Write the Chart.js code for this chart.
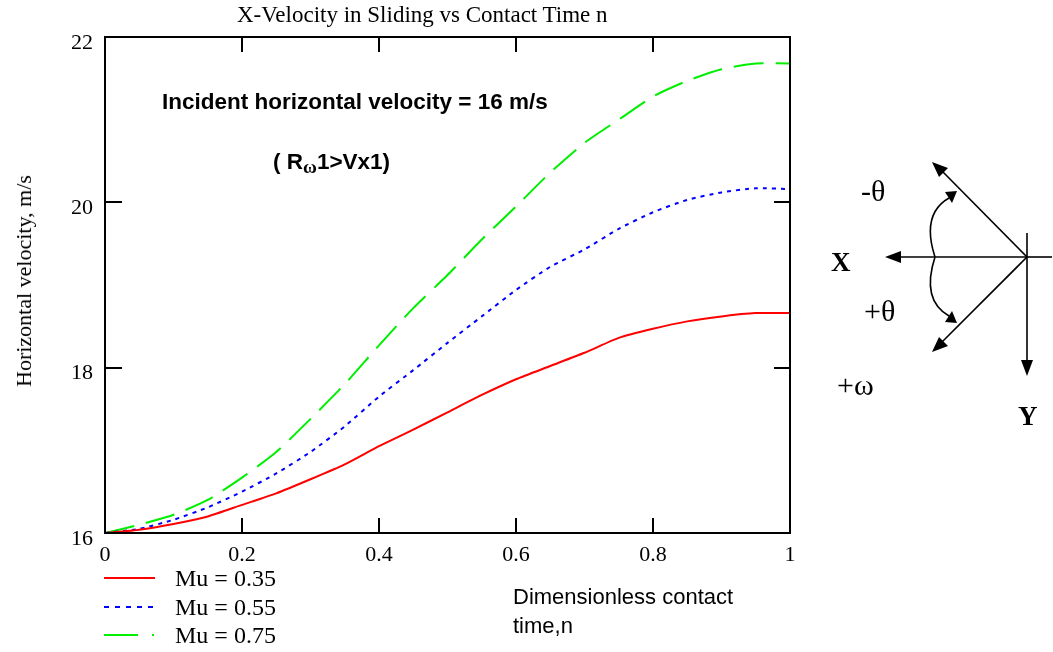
<!DOCTYPE html>
<html>
<head>
<meta charset="utf-8">
<script src="https://cdn.jsdelivr.net/npm/chart.js@4.4.1/dist/chart.umd.min.js"></script>
<style>
  html, body { margin: 0; padding: 0; background: #fff; }
  #wrap { position: relative; width: 1053px; height: 652px; overflow: hidden; }
  #myChart { position: absolute; left: 0; top: 0; }
  .txt { position: absolute; white-space: nowrap; color: #000; line-height: 1; }
  .serif { font-family: "Liberation Serif", "Times New Roman", serif; }
  .sans { font-family: "Liberation Sans", Arial, sans-serif; }
  #diagram { position: absolute; left: 0; top: 0; }
</style>
</head>
<body>
<div id="wrap">
  <canvas id="myChart" width="1053" height="652"></canvas>

  <div class="txt serif" style="left:237px; top:3px; font-size:23px;">X-Velocity in Sliding vs Contact Time n</div>
  <div class="txt serif" style="left:24px; top:281px; font-size:22px; transform: translate(-50%, -50%) rotate(-90deg);">Horizontal velocity, m/s</div>

  <div class="txt sans" style="left:162px; top:91px; font-size:22.5px; font-weight:bold;">Incident horizontal velocity = 16 m/s</div>
  <div class="txt sans" style="left:273px; top:151px; font-size:22.5px; font-weight:bold;">( R<span class="serif" style="font-size:19px; position:relative; top:4px;">ω</span>1&gt;Vx1)</div>

  <div class="txt sans" style="left:513px; top:586px; font-size:22px;">Dimensionless contact</div>
  <div class="txt sans" style="left:513px; top:615px; font-size:22px;">time,n</div>

  <div id="legend"></div>

  <svg id="diagram" width="1053" height="652">
    <g stroke="#000" stroke-width="1.6" fill="none">
      <line x1="1027" y1="257" x2="898" y2="257"/>
      <line x1="1027" y1="257" x2="1052" y2="257"/>
      <line x1="1027" y1="233" x2="1027" y2="362"/>
      <line x1="1027" y1="257" x2="942" y2="171"/>
      <line x1="1027" y1="257" x2="942" y2="342"/>
      <path d="M 935 257 Q 921 214 949 198"/>
      <path d="M 935 257 Q 921 300 949 316"/>
    </g>
    <g fill="#000">
      <polygon points="885,257 901,251 901,263"/>
      <polygon points="1027,376 1021,360 1033,360"/>
      <polygon points="932,162 948,168 939,177"/>
      <polygon points="932,352 939,337 948,346"/>
      <polygon points="957,191 945,192 952,203"/>
      <polygon points="957,323 952,311 945,322"/>
    </g>
    <g font-family="Liberation Serif, serif" fill="#000">
      <text x="861" y="201" font-size="30">-θ</text>
      <text x="831" y="271" font-size="27" font-weight="bold">X</text>
      <text x="864" y="321" font-size="30">+θ</text>
      <text x="837" y="395" font-size="30">+ω</text>
      <text x="1018" y="425" font-size="27" font-weight="bold">Y</text>
    </g>
  </svg>
</div>

<script>
// temps de contact adimensionnel
const nValues = [0, 0.05, 0.1, 0.15, 0.2, 0.25, 0.3, 0.35, 0.4, 0.45, 0.5,
  0.55, 0.6, 0.65, 0.7, 0.75, 0.8, 0.85, 0.9, 0.95, 1];

// vitesse horizontale (m/s) pour chaque Mu
const vxMu035 = [16.0, 16.04, 16.11, 16.2, 16.34, 16.48, 16.65, 16.83, 17.05, 17.25, 17.46,
  17.67, 17.86, 18.02, 18.18, 18.36, 18.47, 18.56, 18.62, 18.66, 18.66];
const vxMu055 = [16.0, 16.05, 16.16, 16.31, 16.5, 16.72, 16.98, 17.29, 17.65, 17.97, 18.3,
  18.62, 18.94, 19.22, 19.43, 19.68, 19.88, 20.03, 20.12, 20.17, 20.16];
const vxMu075 = [16.0, 16.1, 16.22, 16.4, 16.67, 16.98, 17.38, 17.8, 18.27, 18.72, 19.12,
  19.55, 19.95, 20.36, 20.72, 21.0, 21.28, 21.47, 21.61, 21.68, 21.68];

const seriesLabels = ["Mu = 0.35", "Mu = 0.55", "Mu = 0.75"];
const xTicks = [0, 0.2, 0.4, 0.6, 0.8, 1];
const yTicks = [16, 18, 20, 22];

const seriesColors = ["#ff0000", "#0000ff", "#00ee00"];
const seriesDash = [[], [4, 5], [30, 12]];

function toPoints(ys) {
  return nValues.map((n, i) => ({ x: n, y: ys[i] }));
}

// cadre + graduations vers l'intérieur
const frameTicks = {
  id: "frameTicks",
  afterDraw(chart) {
    const { ctx, chartArea: a, scales } = chart;
    ctx.save();
    ctx.strokeStyle = "#000";
    ctx.lineWidth = 2;
    ctx.strokeRect(a.left, a.top, a.right - a.left, a.bottom - a.top);
    ctx.beginPath();
    for (const v of xTicks) {
      const px = Math.round(scales.x.getPixelForValue(v));
      ctx.moveTo(px, a.bottom); ctx.lineTo(px, a.bottom - 15);
      ctx.moveTo(px, a.top); ctx.lineTo(px, a.top + 15);
    }
    for (const v of yTicks) {
      const py = Math.round(scales.y.getPixelForValue(v));
      ctx.moveTo(a.left, py); ctx.lineTo(a.left + 17, py);
      ctx.moveTo(a.right, py); ctx.lineTo(a.right - 16, py);
    }
    ctx.stroke();
    ctx.restore();
  },
};

Chart.defaults.font.family = "'Liberation Serif', 'Times New Roman', serif";
Chart.defaults.font.size = 22;
Chart.defaults.color = "#000";

const ctx = document.getElementById("myChart").getContext("2d");
new Chart(ctx, {
  type: "line",
  data: {
    datasets: [vxMu035, vxMu055, vxMu075].map((ys, i) => ({
      label: seriesLabels[i],
      data: toPoints(ys),
      borderColor: seriesColors[i],
      borderDash: seriesDash[i],
      borderWidth: 2,
      pointRadius: 0,
      tension: 0.2,
      fill: false,
    })),
  },
  options: {
    responsive: false,
    animation: false,
    layout: { padding: { left: 0, top: 37, right: 263, bottom: 0 } },
    plugins: {
      legend: { display: false },
      title: { display: false },
      tooltip: { enabled: false },
    },
    scales: {
      x: {
        type: "linear",
        min: 0,
        max: 1,
        afterBuildTicks: (s) => { s.ticks = xTicks.map((v) => ({ value: v })); },
        afterFit: (s) => { s.height = 119; },
        grid: { drawOnChartArea: false, drawTicks: false },
        border: { display: false },
        ticks: { padding: 9, maxRotation: 0, callback: (v) => String(v) },
      },
      y: {
        type: "linear",
        min: 16,
        max: 22,
        afterBuildTicks: (s) => { s.ticks = yTicks.map((v) => ({ value: v })); },
        afterFit: (s) => { s.width = 105; },
        grid: { drawOnChartArea: false, drawTicks: false },
        border: { display: false },
        ticks: { padding: 12, labelOffset: 6 },
      },
    },
  },
  plugins: [frameTicks],
});

// légende en bas à gauche
const legendEl = document.getElementById("legend");
const legendTop = [578, 607, 635];
seriesLabels.forEach((lab, i) => {
  const svg = document.createElementNS("http://www.w3.org/2000/svg", "svg");
  svg.setAttribute("width", "60");
  svg.setAttribute("height", "6");
  svg.style.position = "absolute";
  svg.style.left = "104px";
  svg.style.top = (legendTop[i] - 3) + "px";
  const ln = document.createElementNS("http://www.w3.org/2000/svg", "line");
  ln.setAttribute("x1", "0"); ln.setAttribute("x2", "51");
  ln.setAttribute("y1", "3"); ln.setAttribute("y2", "3");
  ln.setAttribute("stroke", seriesColors[i]);
  ln.setAttribute("stroke-width", "2");
  if (i === 1) ln.setAttribute("stroke-dasharray", "5 6");
  if (i === 2) ln.setAttribute("stroke-dasharray", "34 14 2 10");
  svg.appendChild(ln);
  legendEl.appendChild(svg);

  const t = document.createElement("div");
  t.className = "txt serif";
  t.style.left = "175px";
  t.style.top = (legendTop[i] - 12) + "px";
  t.style.fontSize = "24px";
  t.textContent = lab;
  legendEl.appendChild(t);
});
</script>
</body>
</html>
